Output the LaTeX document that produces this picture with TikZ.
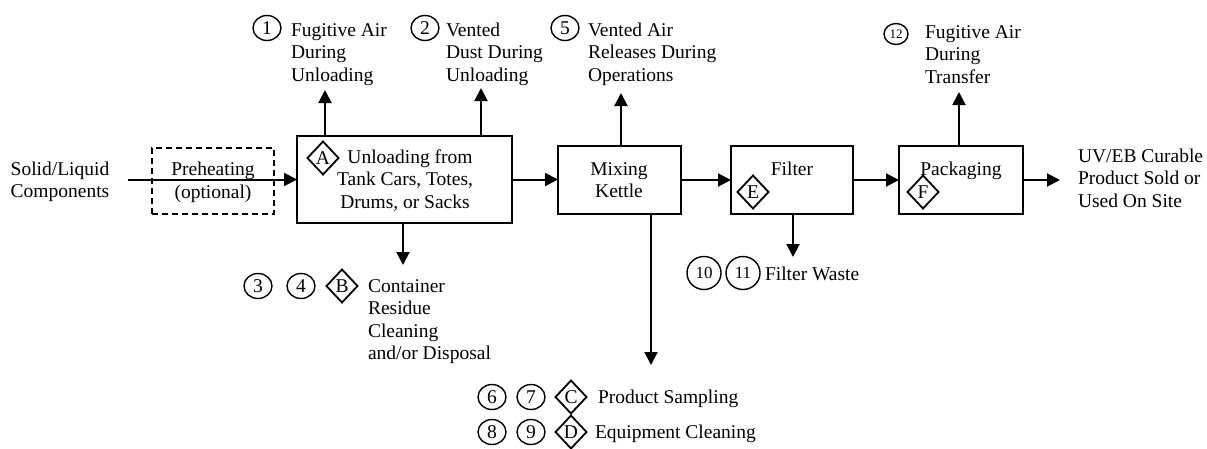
\documentclass[tikz,border=0pt]{standalone}
\usepackage{fontspec}
\setmainfont{Liberation Serif}
\usetikzlibrary{arrows.meta,shapes.geometric}
\begin{document}
\begin{tikzpicture}[x=1pt,y=-1pt,
  font=\fontsize{19.5}{22.5}\selectfont,
  every node/.style={inner sep=0pt, outer sep=0pt},
  proc/.style={draw, line width=2pt, rectangle, minimum height=68pt},
  flow/.style={line width=2pt, -{Triangle[length=13pt,width=13pt]}},
  marker/.style={draw, line width=1.4pt, ellipse, minimum width=28pt, minimum height=25pt},
  bigmarker/.style={marker, minimum width=34pt, minimum height=33pt, font=\fontsize{17}{20}\selectfont},
  tag/.style={draw, line width=1.8pt, diamond, minimum width=31pt, minimum height=33pt},
  txt/.style={anchor=base west, align=left},
  ctxt/.style={anchor=base, align=center},
]
\useasboundingbox (0,0) rectangle (1207,448);

% process boxes
\node[draw, line width=1.6pt, dash pattern=on 6pt off 4pt, minimum width=122pt, minimum height=66pt] (preheat) at (213,181) {};
\node[proc, minimum width=215pt, minimum height=87pt] (unload) at (404.5,179.5) {};
\node[proc, minimum width=123pt] (mix) at (619.5,180) {};
\node[proc, minimum width=122pt] (filter) at (792,180) {};
\node[proc, minimum width=124pt] (pack) at (961,180) {};

% box texts (base anchor sits on the last line)
\node[ctxt] (preheattxt) at (213,198) {Preheating\\(optional)};
\node[ctxt] (unloadtxt) at (405,208) {\hspace*{10pt}Unloading from\\Tank Cars, Totes,\\Drums, or Sacks};
\node[ctxt] (mixtxt) at (619,197.5) {Mixing\\Kettle};
\node[ctxt] (filtertxt) at (792,175) {Filter};
\node[ctxt] (packtxt) at (961,175) {Packaging};

% activity tags inside boxes
\node[tag] (tA) at (323,158) {A};
\node[tag] (tE) at (753,192) {E};
\node[tag] (tF) at (923,192) {F};

% input and output
\node[ctxt] (input) at (60,197.5) {Solid/Liquid\\Components};
\coordinate (inpt) at (128,179.5);
\node[txt] (output) at (1078,207) {UV/EB Curable\\Product Sold or\\Used On Site};
\coordinate (outpt) at (1060,180);

% main flow
\draw[flow] (inpt) -- (unload.west);
\draw[flow] (unload.east) -- (unload.east -| mix.west);
\draw[flow] (mix.east) -- (filter.west);
\draw[flow] (filter.east) -- (pack.west);
\draw[flow] (pack.east) -- (outpt);

% releases above
\coordinate (up1) at (325,90);
\coordinate (up2) at (481,88);
\coordinate (up5) at (621,93);
\coordinate (up12) at (959,92);
\draw[flow] (unload.north -| up1) -- (up1);
\draw[flow] (unload.north -| up2) -- (up2);
\draw[flow] (mix.north -| up5) -- (up5);
\draw[flow] (pack.north -| up12) -- (up12);

\node[marker] (m1) at (267,28) {1};
\node[txt] (r1) at (291,81) {Fugitive Air\\During\\Unloading};
\node[marker] (m2) at (425,28) {2};
\node[txt] (r2) at (446,81) {Vented\\Dust During\\Unloading};
\node[marker] (m5) at (565,28) {5};
\node[txt] (r5) at (588,81) {Vented Air\\Releases During\\Operations};
\node[marker, minimum width=24pt, minimum height=21pt, font=\fontsize{13}{15}\selectfont] (m12) at (896,34) {12};
\node[txt] (r12) at (925,83) {Fugitive Air\\During\\Transfer};

% releases below
\coordinate (dn1) at (403,265);
\coordinate (dn2) at (651,365);
\coordinate (dn3) at (793,257);
\draw[flow] (unload.south -| dn1) -- (dn1);
\draw[flow] (mix.south -| dn2) -- (dn2);
\draw[flow] (filter.south -| dn3) -- (dn3);

\node[marker] (m3) at (258,286) {3};
\node[marker] (m4) at (301,286) {4};
\node[tag] (tB) at (342,286) {B};
\node[txt] (rB) at (368,359.5) {Container\\Residue\\Cleaning\\and/or Disposal};

\node[bigmarker] (m10) at (704,273) {10};
\node[bigmarker] (m11) at (743,273) {11};
\node[txt] (rW) at (765,280) {Filter Waste};

\node[marker] (m6) at (492,397) {6};
\node[marker] (m7) at (531,397) {7};
\node[tag] (tC) at (571,397) {C};
\node[txt] (rC) at (598,403) {Product Sampling};

\node[marker] (m8) at (492,432) {8};
\node[marker] (m9) at (531,432) {9};
\node[tag] (tD) at (571,432) {D};
\node[txt] (rD) at (595,438) {Equipment Cleaning};
\end{tikzpicture}
\end{document}
